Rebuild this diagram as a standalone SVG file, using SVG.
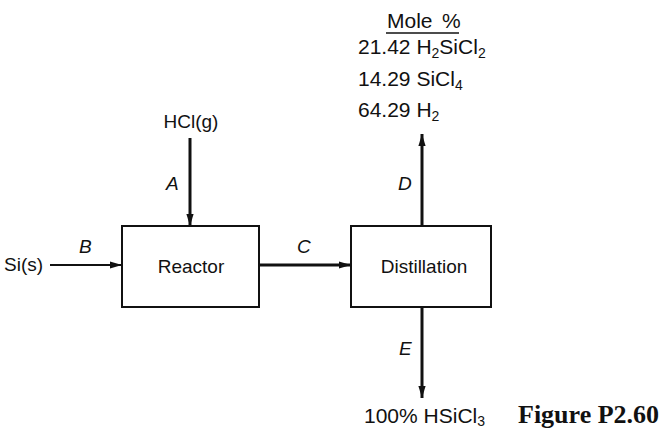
<svg xmlns="http://www.w3.org/2000/svg" width="667" height="428" viewBox="0 0 667 428">
<style>
.t{font-family:"Liberation Sans",Arial,sans-serif;font-size:19px;fill:#111}
.m{font-family:"Liberation Sans",Arial,sans-serif;font-size:21px;fill:#111}
.s{font-size:14px}
.l{font-family:"Liberation Sans",Arial,sans-serif;font-size:19px;font-style:italic;fill:#111}
.box{fill:#fff;stroke:#111;stroke-width:2}
.c{stroke:#111;stroke-width:3;fill:none}
.cs{stroke:#111;stroke-width:2;fill:none}
.fig{font-family:"Liberation Serif","Times New Roman",serif;font-size:26px;font-weight:bold;fill:#111}
</style>
<defs>
<marker id="ah" viewBox="0 0 10 10" refX="10" refY="5" markerWidth="4" markerHeight="4" orient="auto" markerUnits="strokeWidth">
<path d="M0,2 L10,5 L0,8 Z" fill="#111"/>
</marker>
<marker id="ah2" viewBox="0 0 10 10" refX="10" refY="5" markerWidth="6" markerHeight="6" orient="auto" markerUnits="strokeWidth">
<path d="M0,2 L10,5 L0,8 Z" fill="#111"/>
</marker>
</defs>
<rect width="667" height="428" fill="#fff"/>
<g id="connectors">
<line class="c" x1="190" y1="138" x2="190" y2="226" marker-end="url(#ah)"/>
<line class="cs" x1="50" y1="265" x2="122" y2="265" marker-end="url(#ah2)"/>
<line class="c" x1="259" y1="265" x2="351" y2="265" marker-end="url(#ah)"/>
<line class="c" x1="422" y1="226" x2="422" y2="134" marker-end="url(#ah)"/>
<line class="c" x1="422" y1="307" x2="422" y2="398" marker-end="url(#ah)"/>
</g>
<g id="reactor">
<rect class="box" x="122" y="226" width="137" height="81"/>
<text class="t" x="191" y="273" text-anchor="middle">Reactor</text>
</g>
<g id="distillation">
<rect class="box" x="351" y="226" width="140" height="81"/>
<text class="t" x="424" y="273" text-anchor="middle">Distillation</text>
</g>
<g id="labels">
<text class="t" x="191" y="128" text-anchor="middle">HCl(g)</text>
<text class="l" x="166" y="190">A</text>
<text class="l" x="79" y="253">B</text>
<text class="l" x="297" y="253">C</text>
<text class="l" x="398" y="190">D</text>
<text class="l" x="399" y="355">E</text>
<text class="t" x="4" y="271">Si(s)</text>
<text class="m" x="387" y="28">Mole<tspan x="442">%</tspan></text>
<line x1="386" y1="33" x2="459" y2="33" stroke="#111" stroke-width="1.5"/>
<text class="m" x="358" y="54">21.42 H<tspan class="s" dy="4">2</tspan><tspan dy="-4">SiCl</tspan><tspan class="s" dy="4">2</tspan></text>
<text class="m" x="358" y="86">14.29 SiCl<tspan class="s" dy="4">4</tspan></text>
<text class="m" x="358" y="117">64.29 H<tspan class="s" dy="4">2</tspan></text>
<text class="m" x="364" y="423">100% HSiCl<tspan class="s" dy="3">3</tspan></text>
<text class="fig" x="518" y="423">Figure P2.60</text>
</g>
</svg>
